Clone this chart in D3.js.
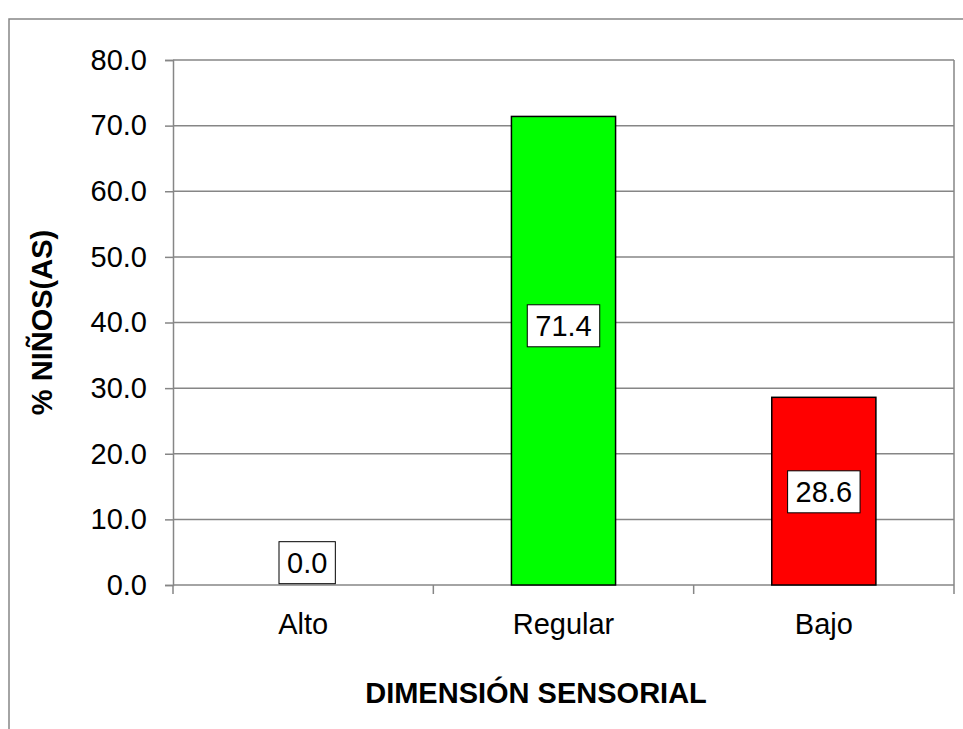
<!DOCTYPE html>
<html>
<head>
<meta charset="utf-8">
<script src="https://cdn.jsdelivr.net/npm/d3@7"></script>
<style>
  html, body { margin: 0; padding: 0; background: #fff; }
  svg { display: block; font-family: "Liberation Sans", Arial, sans-serif; }
</style>
</head>
<body>
<svg id="chart" width="963" height="729"></svg>
<script>
// ---- data ----
const categories = ["Alto", "Regular", "Bajo"];
const values = [0.0, 71.4, 28.6];
const barColors = ["#00ff00", "#00ff00", "#ff0000"];
const yTicks = [0, 10, 20, 30, 40, 50, 60, 70, 80];
const yTitle = "% NIÑOS(AS)";
const xTitle = "DIMENSIÓN SENSORIAL";
// label anchor (value units where each data label box is centred)
const labelAnchors = [3.4, 39.5, 14.2];

// ---- layout ----
const W = 963, H = 729;
const plot = { left: 173, top: 60, right: 954, bottom: 585 };
const gridColor = "#868686";
const fontSize = 29;

const svg = d3.select("#chart");

// outer chart border
svg.append("rect")
  .attr("x", 9).attr("y", 19)
  .attr("width", W + 10).attr("height", H + 10)
  .attr("fill", "none").attr("stroke", gridColor).attr("stroke-width", 1.5);

const x = d3.scaleBand().domain(categories).range([plot.left, plot.right]).paddingInner(0.6).paddingOuter(0.3);
const xTickScale = d3.scalePoint().domain(d3.range(categories.length + 1)).range([plot.left, plot.right]);
const y = d3.scaleLinear().domain([0, 80]).range([plot.bottom, plot.top]);

// gridlines
svg.append("g").selectAll("line").data(yTicks.filter(d => d > 0)).join("line")
  .attr("x1", plot.left).attr("x2", plot.right)
  .attr("y1", d => y(d)).attr("y2", d => y(d))
  .attr("stroke", gridColor).attr("stroke-width", 1.5);

// right border of plot
svg.append("line")
  .attr("x1", plot.right).attr("x2", plot.right)
  .attr("y1", plot.top).attr("y2", plot.bottom)
  .attr("stroke", gridColor).attr("stroke-width", 1.5);

// y axis
const yAxis = d3.axisLeft(y).tickValues(yTicks).tickFormat(d3.format(".1f")).tickSize(8).tickPadding(18);
const gy = svg.append("g").attr("transform", `translate(${plot.left},0)`).call(yAxis);
gy.select(".domain").attr("stroke", gridColor).attr("stroke-width", 1.5);
gy.selectAll(".tick line").attr("stroke", gridColor).attr("stroke-width", 1.5);
gy.selectAll(".tick text").attr("font-size", fontSize).attr("fill", "#000")
  .attr("font-family", "Liberation Sans, Arial, sans-serif");

// x axis (ticks between categories)
const gx = svg.append("g").attr("transform", `translate(0,${plot.bottom})`);
gx.append("line").attr("x1", plot.left).attr("x2", plot.right)
  .attr("stroke", gridColor).attr("stroke-width", 1.5);
gx.selectAll("line.tk").data(xTickScale.domain()).join("line").attr("class", "tk")
  .attr("x1", d => xTickScale(d)).attr("x2", d => xTickScale(d))
  .attr("y1", 0).attr("y2", 9)
  .attr("stroke", gridColor).attr("stroke-width", 1.5);
gx.selectAll("text").data(categories).join("text")
  .attr("x", d => x(d) + x.bandwidth() / 2)
  .attr("y", 49)
  .attr("text-anchor", "middle")
  .attr("font-size", fontSize)
  .attr("fill", "#000")
  .text(d => d);

// bars
svg.append("g").selectAll("rect").data(values).join("rect")
  .attr("x", (d, i) => x(categories[i]))
  .attr("width", x.bandwidth())
  .attr("y", d => y(d))
  .attr("height", d => y(0) - y(d))
  .attr("fill", (d, i) => barColors[i])
  .attr("stroke", d => d > 0 ? "#000" : "none")
  .attr("stroke-width", 1.5);

// data labels
const lbl = svg.append("g").selectAll("g").data(values).join("g")
  .attr("transform", (d, i) => `translate(${x(categories[i]) + x.bandwidth() / 2 + (d === 0 ? 4 : 0)},${y(labelAnchors[i])})`);
lbl.append("text")
  .attr("text-anchor", "middle")
  .attr("dy", "0.36em")
  .attr("font-size", fontSize)
  .attr("fill", "#000")
  .text(d => d3.format(".1f")(d));
lbl.each(function() {
  const g = d3.select(this);
  const bb = g.select("text").node().getBBox();
  const padX = 8;
  g.insert("rect", "text")
    .attr("x", bb.x - padX).attr("y", -21)
    .attr("width", bb.width + 2 * padX).attr("height", 42)
    .attr("fill", "#fff").attr("stroke", "#000").attr("stroke-width", 1);
});

// axis titles
svg.append("text")
  .attr("transform", `translate(52,${(plot.top + plot.bottom) / 2}) rotate(-90)`)
  .attr("text-anchor", "middle")
  .attr("font-size", fontSize).attr("font-weight", "bold").attr("fill", "#000")
  .text(yTitle);
svg.append("text")
  .attr("x", 536).attr("y", 703)
  .attr("text-anchor", "middle")
  .attr("font-size", fontSize).attr("font-weight", "bold").attr("fill", "#000")
  .text(xTitle);
</script>
</body>
</html>
